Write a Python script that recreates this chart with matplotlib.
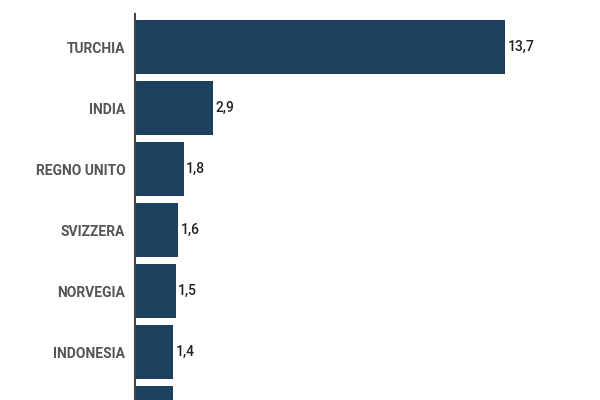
import matplotlib
matplotlib.use("Agg")
import matplotlib.pyplot as plt

countries = ["TURCHIA", "INDIA", "REGNO UNITO", "SVIZZERA", "NORVEGIA", "INDONESIA", ""]
values = [13.7, 2.9, 1.8, 1.6, 1.5, 1.4, 1.4]
value_labels = ["13,7", "2,9", "1,8", "1,6", "1,5", "1,4", ""]

plt.rcParams['font.family'] = ['Roboto', 'DejaVu Sans']

fig = plt.figure(figsize=(6, 4), dpi=100)
ax = fig.add_axes([0.225, -0.185, 0.765, 1.15])

pos = list(range(len(countries)))
ax.barh(pos, values, height=0.885, color="#1c405e")
for p, v, lab in zip(pos, values, value_labels):
    if lab:
        ax.text(v + 0.1, p, lab, va="center", ha="left", fontsize=10,
                color="#222222", fontweight="medium")

ax.set_yticks(pos)
ax.set_yticklabels(countries, fontsize=10, color="#555555", fontweight="bold")
ax.tick_params(axis="y", length=0, pad=7)
ax.set_xticks([])
ax.set_xlim(0, 17)
ax.set_ylim(7.0, -0.541)
for s in ["top", "right", "bottom"]:
    ax.spines[s].set_visible(False)
ax.spines["left"].set_color("#444444")
ax.spines["left"].set_linewidth(1.5)

fig.savefig("out.png", dpi=100)
